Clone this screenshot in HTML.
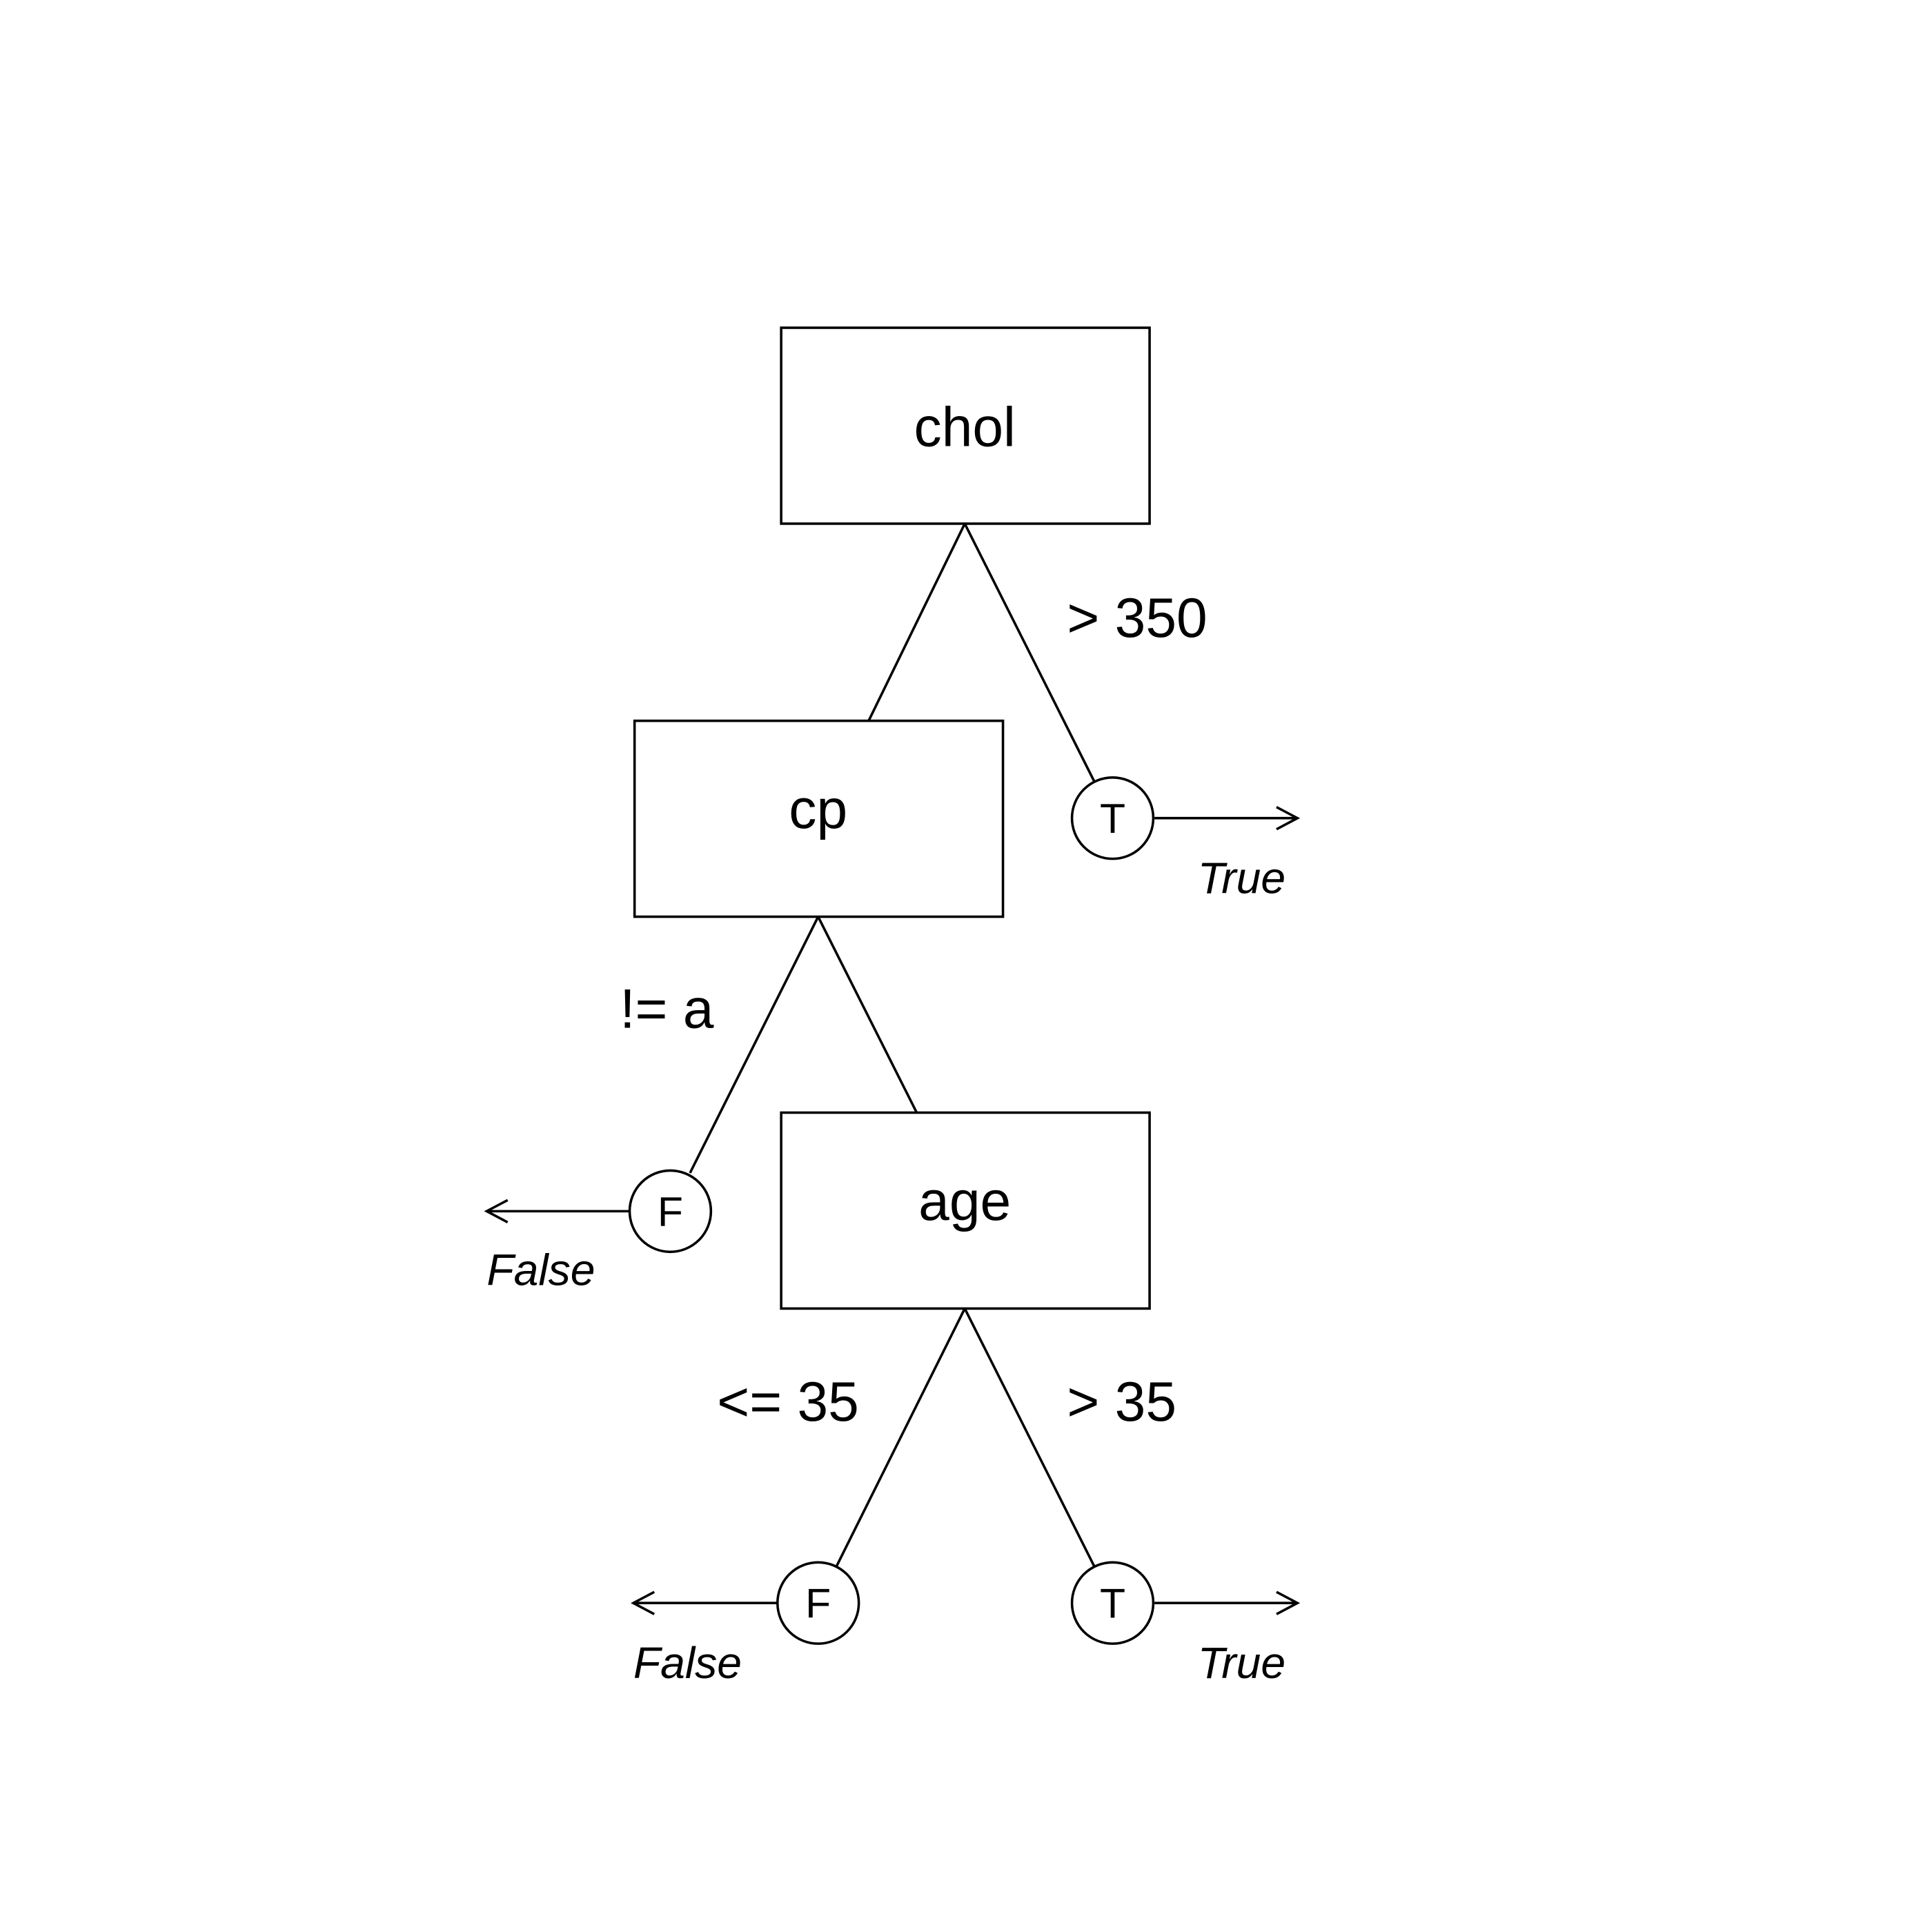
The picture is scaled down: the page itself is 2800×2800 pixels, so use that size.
<!DOCTYPE html>
<html><head><meta charset="utf-8"><style>html,body{margin:0;padding:0;background:#fff}svg{display:block}</style></head>
<body>
<svg width="2800" height="2800" viewBox="0 0 1568 1568" xmlns="http://www.w3.org/2000/svg" font-family="Liberation Sans, Arial, sans-serif">
<rect width="1568" height="1568" fill="#fff"/>
<g fill="none" stroke="#000" stroke-width="2">
<rect x="634" y="266" width="299" height="159"/>
<rect x="515" y="585" width="299" height="159"/>
<rect x="634" y="903" width="299" height="159"/>
<line x1="783" y1="425" x2="705" y2="585"/>
<line x1="783" y1="425" x2="888" y2="634"/>
<line x1="664" y1="744" x2="560" y2="952"/>
<line x1="664" y1="744" x2="744" y2="903"/>
<line x1="783" y1="1062" x2="679" y2="1271"/>
<line x1="783" y1="1062" x2="888" y2="1271"/>
<circle cx="903" cy="664" r="33"/>
<circle cx="544" cy="983" r="33"/>
<circle cx="664" cy="1301" r="33"/>
<circle cx="903" cy="1301" r="33"/>
<line x1="937" y1="664" x2="1053" y2="664"/>
<polyline points="1036,655 1053,664 1036,673"/>
<line x1="511" y1="983" x2="395" y2="983"/>
<polyline points="412,974 395,983 412,992"/>
<line x1="631" y1="1301" x2="514" y2="1301"/>
<polyline points="531,1292 514,1301 531,1310"/>
<line x1="937" y1="1301" x2="1053" y2="1301"/>
<polyline points="1036,1292 1053,1301 1036,1310"/>
</g>
<g fill="#000" font-size="45" text-anchor="middle">
<text x="783" y="362">chol</text>
<text x="664" y="672">cp</text>
<text x="783" y="990">age</text>
</g>
<g fill="#000" font-size="45">
<text x="866" y="517">&gt; 350</text>
<text x="503" y="834">!= a</text>
<text x="582" y="1153">&lt;= 35</text>
<text x="866" y="1153">&gt; 35</text>
</g>
<g fill="#000" font-size="34" text-anchor="middle">
<text x="903" y="676">T</text>
<text x="544" y="995">F</text>
<text x="664" y="1313">F</text>
<text x="903" y="1313">T</text>
</g>
<g fill="#000" font-size="36" font-style="italic">
<text x="972" y="725">True</text>
<text x="395" y="1043">False</text>
<text x="514" y="1362">False</text>
<text x="972" y="1362">True</text>
</g>
</svg>
</body></html>
